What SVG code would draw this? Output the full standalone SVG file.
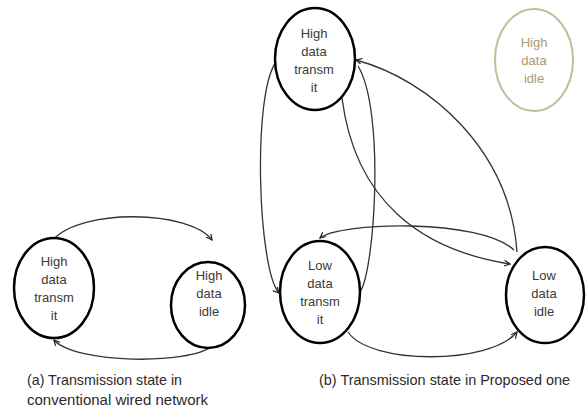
<svg xmlns="http://www.w3.org/2000/svg" width="588" height="412" viewBox="0 0 588 412">
<defs>
<style>
.node{fill:#fff;stroke:#000;stroke-width:2.5}
.ghost{fill:#fff;stroke:#c4bc96;stroke-width:2}
.lbl{font-family:"Liberation Sans",Arial,sans-serif;font-size:13px;fill:#3a3a3a;text-anchor:middle}
.glbl{font-family:"Liberation Sans",Arial,sans-serif;font-size:13px;fill:#a89a70;text-anchor:middle}
.cap{font-family:"Liberation Sans",Arial,sans-serif;font-size:14.5px;fill:#2b2b2b}
.edge{fill:none;stroke:#333;stroke-width:1.3}
</style>
<marker id="arr" markerWidth="8" markerHeight="8" refX="6" refY="3" orient="auto" markerUnits="userSpaceOnUse">
<path d="M0,0 L6,3 L0,6" fill="none" stroke="#222" stroke-width="1.2"/>
</marker>
</defs>
<rect width="588" height="412" fill="#fff"/>
<g id="connectors">
<path class="edge" d="M53,240 C80,208 190,210 212,240" marker-end="url(#arr)"/>
<path class="edge" d="M212,346 C190,365 75,364 54,340" marker-end="url(#arr)"/>
<path class="edge" d="M276,62 C252,95 258,270 279,293" marker-end="url(#arr)"/>
<path class="edge" d="M358,66 C385,110 375,270 360,292"/>
<path class="edge" d="M342,98 C355,200 420,250 510,264" marker-end="url(#arr)"/>
<path class="edge" d="M517,252 C510,150 430,80 356,60" marker-end="url(#arr)"/>
<path class="edge" d="M514,250 C480,218 340,222 320,238" marker-end="url(#arr)"/>
<path class="edge" d="M348,332 C370,365 490,365 517,332" marker-end="url(#arr)"/>
</g>
<g id="a-high-transmit">
<ellipse class="node" cx="54" cy="288" rx="40" ry="50"/>
<text class="lbl" x="54" y="266">High</text>
<text class="lbl" x="54" y="284">data</text>
<text class="lbl" x="54" y="302">transm</text>
<text class="lbl" x="54" y="320">it</text>
</g>
<g id="a-high-idle">
<ellipse class="node" cx="208" cy="305" rx="37" ry="43"/>
<text class="lbl" x="209" y="280">High</text>
<text class="lbl" x="209" y="298">data</text>
<text class="lbl" x="209" y="316">idle</text>
</g>
<g id="b-high-transmit">
<ellipse class="node" cx="315" cy="59" rx="40" ry="51"/>
<text class="lbl" x="314" y="38">High</text>
<text class="lbl" x="314" y="56">data</text>
<text class="lbl" x="314" y="74">transm</text>
<text class="lbl" x="314" y="92">it</text>
</g>
<g id="b-high-idle">
<ellipse class="ghost" cx="534" cy="60" rx="39" ry="51"/>
<text class="glbl" x="534" y="47">High</text>
<text class="glbl" x="534" y="65">data</text>
<text class="glbl" x="534" y="83">idle</text>
</g>
<g id="b-low-transmit">
<ellipse class="node" cx="320" cy="292" rx="40" ry="51"/>
<text class="lbl" x="320" y="270">Low</text>
<text class="lbl" x="320" y="288">data</text>
<text class="lbl" x="320" y="306">transm</text>
<text class="lbl" x="320" y="324">it</text>
</g>
<g id="b-low-idle">
<ellipse class="node" cx="545" cy="295" rx="39" ry="48"/>
<text class="lbl" x="544" y="280">Low</text>
<text class="lbl" x="544" y="298">data</text>
<text class="lbl" x="544" y="316">idle</text>
</g>
<g id="captions">
<text class="cap" x="27" y="385" textLength="155" lengthAdjust="spacingAndGlyphs">(a) Transmission state in</text>
<text class="cap" x="27" y="405" textLength="181" lengthAdjust="spacingAndGlyphs">conventional wired network</text>
<text class="cap" x="319" y="385" textLength="251" lengthAdjust="spacingAndGlyphs">(b) Transmission state in  Proposed one</text>
</g>
</svg>
